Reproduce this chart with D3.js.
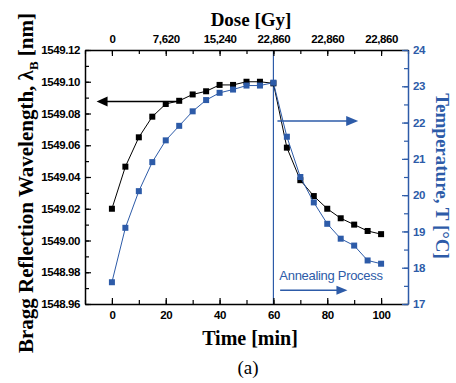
<!DOCTYPE html>
<html><head><meta charset="utf-8">
<script src="https://cdn.jsdelivr.net/npm/d3@7"></script>
<style>
html,body{margin:0;padding:0;background:#fff;}
svg{display:block;}
</style></head>
<body>
<svg id="chart" width="456" height="383"></svg>
<script>
const times = [0,5,10,15,20,25,30,35,40,45,50,55,60,65,70,75,80,85,90,95,100];
const wavelength = [1549.020,1549.0465,1549.065,1549.078,1549.086,1549.088,1549.092,1549.094,1549.098,1549.098,1549.100,1549.100,1549.099,1549.0585,1549.038,1549.028,1549.020,1549.014,1549.010,1549.006,1549.004];
const temperature = [17.60,19.10,20.11,20.91,21.51,21.91,22.31,22.62,22.82,22.91,23.02,23.02,23.10,21.61,20.50,19.80,19.21,18.80,18.61,18.20,18.11];
const doseTicks = [0,20,40,60,80,100];
const doseLabels = ["0","7,620","15,240","22,860","22,860","22,860"];
const timeTicks = [0,20,40,60,80,100];
const wlTicks = [1548.96,1548.98,1549.00,1549.02,1549.04,1549.06,1549.08,1549.10,1549.12];
const tempTicks = [17,18,19,20,21,22,23,24];

const blue = "#2d5ba8";
const L=85, R=408, T=50, B=304;
const svg = d3.select("#chart");
const x = d3.scaleLinear().domain([-10,110]).range([L,R]);
const yL = d3.scaleLinear().domain([1548.96,1549.12]).range([B,T]);
const yR = d3.scaleLinear().domain([17,24]).range([B,T]);

const tickFont = "'Liberation Sans', Arial, sans-serif";
const serif = "'Liberation Serif','Times New Roman',serif";

// vertical line at 60
svg.append("line").attr("x1",x(60)).attr("x2",x(60)).attr("y1",T).attr("y2",B)
  .attr("stroke",blue).attr("stroke-width",1.2);

function styleAxis(g, color){
  g.select(".domain").attr("stroke",color).attr("stroke-width",1.5);
  g.selectAll(".tick line").attr("stroke",color).attr("stroke-width",1.2);
  g.selectAll("text").attr("fill",color).attr("font-family",tickFont)
    .attr("font-weight","bold").attr("font-size","11.5px").attr("letter-spacing","-0.4px");
}
const minorX = d3.range(-10,111,10);
svg.append("g").attr("transform",`translate(0,${B})`)
  .call(d3.axisBottom(x).tickValues(minorX).tickSize(-4).tickFormat(""))
  .call(g=>{g.select(".domain").remove(); g.selectAll("line").attr("stroke","#000").attr("stroke-width",1.2);});
const gB = svg.append("g").attr("transform",`translate(0,${B})`)
  .call(d3.axisBottom(x).tickValues(timeTicks).tickSizeInner(-6).tickSizeOuter(0).tickPadding(7).tickFormat(d3.format("d")));
styleAxis(gB,"#000");
svg.append("g").attr("transform",`translate(0,${T})`)
  .call(d3.axisTop(x).tickValues(minorX).tickSize(-4).tickFormat(""))
  .call(g=>{g.select(".domain").remove(); g.selectAll("line").attr("stroke","#000").attr("stroke-width",1.2);});
const gT = svg.append("g").attr("transform",`translate(0,${T})`)
  .call(d3.axisTop(x).tickValues(doseTicks).tickSizeInner(-6).tickSizeOuter(0).tickPadding(7).tickFormat((d,i)=>doseLabels[i]));
styleAxis(gT,"#000");
const minorL = d3.range(0,17).map(i=>1548.96+i*0.01);
svg.append("g").attr("transform",`translate(${L},0)`)
  .call(d3.axisLeft(yL).tickValues(minorL).tickSize(-4).tickFormat(""))
  .call(g=>{g.select(".domain").remove(); g.selectAll("line").attr("stroke","#000").attr("stroke-width",1.2);});
const gL = svg.append("g").attr("transform",`translate(${L},0)`)
  .call(d3.axisLeft(yL).tickValues(wlTicks).tickSizeInner(-6).tickSizeOuter(0).tickPadding(5).tickFormat(d3.format(".2f")));
styleAxis(gL,"#000");
const minorR = d3.range(0,15).map(i=>17+i*0.5);
svg.append("g").attr("transform",`translate(${R},0)`)
  .call(d3.axisRight(yR).tickValues(minorR).tickSize(-4).tickFormat(""))
  .call(g=>{g.select(".domain").remove(); g.selectAll("line").attr("stroke",blue).attr("stroke-width",1.2);});
const gR = svg.append("g").attr("transform",`translate(${R},0)`)
  .call(d3.axisRight(yR).tickValues(tempTicks).tickSizeInner(-6).tickSizeOuter(0).tickPadding(5).tickFormat(d3.format("d")));
styleAxis(gR,blue);
gR.selectAll(".tick text").attr("x",5);

// series
const wlData = times.map((t,i)=>({t,v:wavelength[i]}));
const tData = times.map((t,i)=>({t,v:temperature[i]}));
svg.append("path").datum(wlData)
  .attr("d",d3.line().x(d=>x(d.t)).y(d=>yL(d.v)))
  .attr("fill","none").attr("stroke","#000").attr("stroke-width",1);
svg.append("g").selectAll("rect").data(wlData).join("rect")
  .attr("x",d=>x(d.t)-3).attr("y",d=>yL(d.v)-3).attr("width",6).attr("height",6).attr("fill","#000");
svg.append("path").datum(tData)
  .attr("d",d3.line().x(d=>x(d.t)).y(d=>yR(d.v)))
  .attr("fill","none").attr("stroke",blue).attr("stroke-width",1);
svg.append("g").selectAll("rect").data(tData).join("rect")
  .attr("x",d=>x(d.t)-3).attr("y",d=>yR(d.v)-3).attr("width",6).attr("height",6).attr("fill",blue);

// arrows
function arrow(x1,x2,y,color,sw,hl,hw){
  const dir = Math.sign(x2-x1);
  svg.append("line").attr("x1",x1).attr("x2",x2-dir*hl*0.8).attr("y1",y).attr("y2",y)
    .attr("stroke",color).attr("stroke-width",sw);
  svg.append("path").attr("d",`M${x2},${y} L${x2-dir*hl},${y-hw/2} L${x2-dir*hl},${y+hw/2} Z`).attr("fill",color);
}
arrow(x(24.5),x(-5.7),yL(1549.0875),"#000",1.5,11,10);
arrow(x(61.5),x(91.5),yR(22.04),blue,1.5,12,10);
arrow(x(62.5),x(87.5),yR(17.38),blue,1.5,11,9);

svg.append("text").attr("x",x(62.2)).attr("y",yR(17.66)).text("Annealing Process")
  .attr("fill",blue).attr("font-family",tickFont).attr("font-size","13px").attr("letter-spacing","-0.3px");

// titles
svg.append("text").attr("x",251).attr("y",26).attr("text-anchor","middle")
  .attr("font-family",serif).attr("font-weight","bold").attr("font-size","19px").text("Dose [Gy]");
svg.append("text").attr("x",250).attr("y",345).attr("text-anchor","middle")
  .attr("font-family",serif).attr("font-weight","bold").attr("font-size","20px").text("Time [min]");
svg.append("text").attr("x",248).attr("y",374).attr("text-anchor","middle")
  .attr("font-family",serif).attr("font-size","19px").text("(a)");
const lt = svg.append("text").attr("transform","translate(33,183) rotate(-90)").attr("text-anchor","middle")
  .attr("font-family",serif).attr("font-weight","bold").attr("font-size","21px");
lt.append("tspan").text("Bragg Reflection Wavelength, λ");
lt.append("tspan").text("B").attr("font-size","13px").attr("dy","5");
lt.append("tspan").text(" [nm]").attr("dy","-5");
svg.append("text").attr("transform","translate(436,176) rotate(90)").attr("text-anchor","middle")
  .attr("font-family",serif).attr("font-weight","bold").attr("font-size","19px").attr("fill",blue)
  .text("Temperature, T [°C]");
</script>
</body></html>
